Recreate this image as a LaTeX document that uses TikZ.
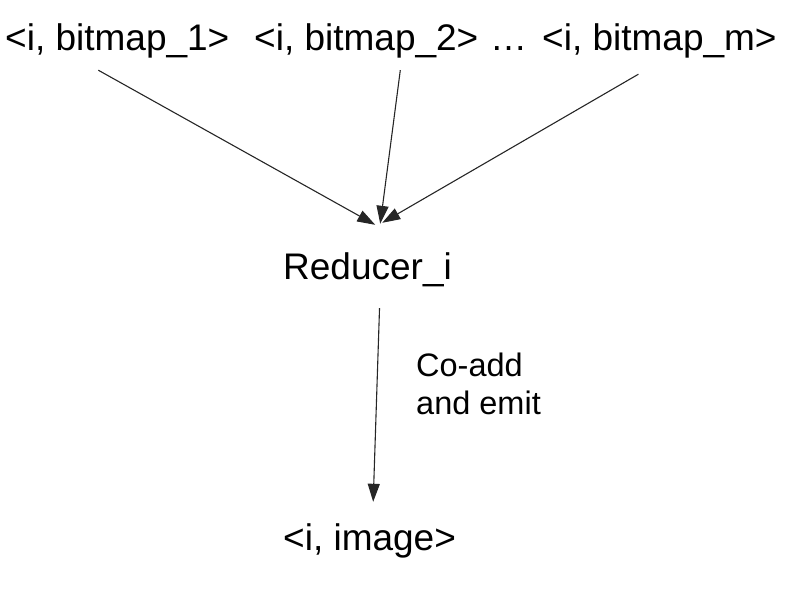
\documentclass[tikz,border=0pt]{standalone}
\usepackage{fontspec}
\setmainfont{Liberation Sans}
\usetikzlibrary{arrows.meta}

\begin{document}
\begin{tikzpicture}[x=1pt, y=-1pt,
    txt/.style = {inner sep=0pt, anchor=base west, text height=27pt, text depth=8pt,
                  font=\fontsize{37}{44}\selectfont},
    lbl/.style = {inner sep=0pt, anchor=north west, align=left,
                  font=\fontsize{32.5}{38}\selectfont},
    arr/.style = {draw=black!85, line width=1.1pt, -{Triangle[length=18pt, width=12pt]}}]
    \useasboundingbox (0,0) rectangle (798,598);
    \node[txt] (b1)   at (5,50)    {<i, bitmap\_1>};
    \node[txt] (b2)   at (254,50)  {<i, bitmap\_2>};
    \node[txt] (dots) at (490,50)  {…};
    \node[txt] (bm)   at (542,50)  {<i, bitmap\_m>};
    \node[txt] (red)  at (283,279) {Reducer\_i};
    \node[txt] (img)  at (283,550) {<i, image>};
    \node[lbl] (add)  at (416,353) {Co-add\\and emit};
    \draw[arr] ([xshift=-19pt, yshift=-12pt]b1.south) -- ([xshift=7.7pt, yshift=27pt]red.north);
    \draw[arr] ([xshift=34pt, yshift=-12pt]b2.south)  -- ([xshift=12.7pt, yshift=28pt]red.north);
    \draw[arr] ([xshift=-21pt, yshift=-16pt]bm.south) -- ([xshift=14.7pt, yshift=29pt]red.north);
    \draw[arr] ([xshift=12pt, yshift=-21pt]red.south) -- ([xshift=3.6pt, yshift=21pt]img.north);
\end{tikzpicture}
\end{document}
